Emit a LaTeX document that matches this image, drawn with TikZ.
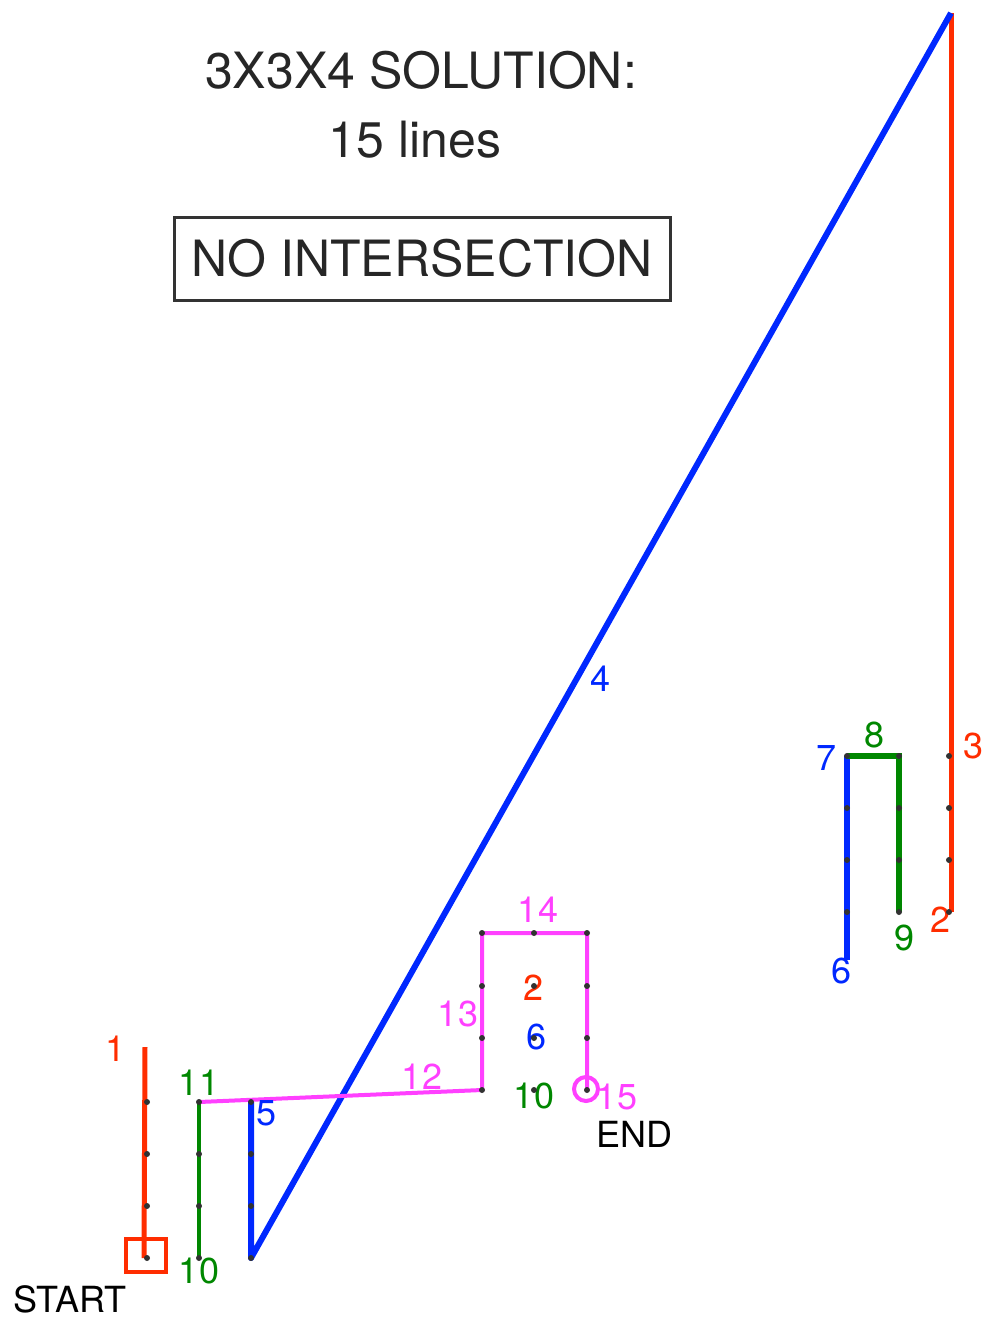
\documentclass[tikz,border=0pt]{standalone}
\usepackage{fontspec}
\setmainfont{TeX Gyre Heros}
\usetikzlibrary{positioning}
\definecolor{myred}{RGB}{255,45,0}
\definecolor{myblue}{RGB}{0,40,255}
\definecolor{mygreen}{RGB}{0,135,0}
\definecolor{mymagenta}{RGB}{255,64,255}
\definecolor{mydot}{RGB}{50,50,50}
\pgfdeclarelayer{front}
\pgfsetlayers{main,front}

\begin{document}
\begin{tikzpicture}[x=1pt, y=-1pt,
    dot/.style={circle, fill=mydot, minimum size=6pt, inner sep=0pt},
    lbl/.style={inner sep=0pt, font=\fontsize{36}{42}\selectfont},
    headline/.style={inner sep=0pt, text=black!85, font=\fontsize{50}{60}\selectfont},
    redline/.style={draw=myred, line width=5pt},
    blueline/.style={draw=myblue, line width=6pt, line join=round},
    greenline/.style={draw=mygreen, line width=4pt},
    pinkline/.style={draw=mymagenta, line width=4pt}]
            \useasboundingbox (0,0) rectangle (987,1318);

            % the three layers of dots
            \begin{pgfonlayer}{front}
            \foreach \c/\x in {1/147,2/199,3/251}
              \foreach \r/\y in {1/1102,2/1154,3/1206,4/1258}
                \node[dot] (a\c\r) at (\x,\y) {};
            \foreach \c/\x in {1/482,2/534,3/587}
              \foreach \r/\y in {1/933,2/986,3/1038,4/1090}
                \node[dot] (b\c\r) at (\x,\y) {};
            \foreach \c/\x in {1/847,2/899,3/949}
              \foreach \r/\y in {1/756,2/808,3/860,4/912}
                \node[dot] (c\c\r) at (\x,\y) {};
            \end{pgfonlayer}

            \coordinate (top1) at (145,1047);
            \coordinate (top3) at (951,13);
            \coordinate (bot7) at (847,960);

            % header
            \node[headline] (title) at (421,70) {3X3X4 SOLUTION:};
            \node[headline] (count) at (415,140) {15 lines};
            \node[headline, draw=black!80, line width=3pt, minimum width=496pt, minimum height=83pt] (nobox) at (422,258.5) {NO INTERSECTION};

            % path
            \draw[redline] ([xshift=-3pt]a14.center) -- (top1);
            \draw[redline] ([xshift=2pt]c34.center) -- (top3);
            \draw[blueline] (top3) -- (a34.center) -- (a31.center);
            \draw[blueline] (bot7) -- (c11.center);
            \draw[greenline, line width=6pt] (c11.center) -- (c21.center) -- (c24.center);
            \draw[greenline] (a24.center) -- (a21.center);
            \draw[pinkline] (a21.center) -- (b14.center) -- (b11.center) -- (b31.center) -- (b34.center);

            \node[draw=myred, line width=3.5pt, minimum width=40pt, minimum height=33pt] (startbox) at (146,1255.5) {};
            \node[circle, draw=mymagenta, line width=4pt, minimum size=24pt, inner sep=0pt] (endring) at (586,1089) {};

            % labels
            \node[lbl, text=myred] (n1) at (116,1049) {1};
            \node[lbl, text=mygreen] (n11) at (199,1083) {11};
            \node[lbl, text=myblue] (n5) at (267,1113) {5};
            \node[lbl, text=mygreen] (n10a) at (199,1271) {10};
            \node[lbl] (start) at (70,1299) {START};
            \node[lbl, text=mymagenta] (n12) at (422,1077) {12};
            \node[lbl, text=mymagenta] (n13) at (458,1014) {13};
            \node[lbl, text=mymagenta] (n14) at (538,910) {14};
            \node[lbl, text=myred] (n2a) at (534,988) {2};
            \node[lbl, text=myblue] (n6a) at (537,1037) {6};
            \node[lbl, text=mygreen] (n10b) at (534,1096) {10};
            \node[lbl, text=mymagenta] (n15) at (617,1097) {15};
            \node[lbl] (finish) at (634,1134) {END};
            \node[lbl, text=myblue] (n4) at (601,679) {4};
            \node[lbl, text=myblue] (n7) at (826,758) {7};
            \node[lbl, text=mygreen] (n8) at (875,735) {8};
            \node[lbl, text=myred] (n3) at (973,746) {3};
            \node[lbl, text=mygreen] (n9) at (904,938) {9};
            \node[lbl, text=myred] (n2b) at (940,920) {2};
            \node[lbl, text=myblue] (n6b) at (842,971) {6};
        \end{tikzpicture}
\end{document}
